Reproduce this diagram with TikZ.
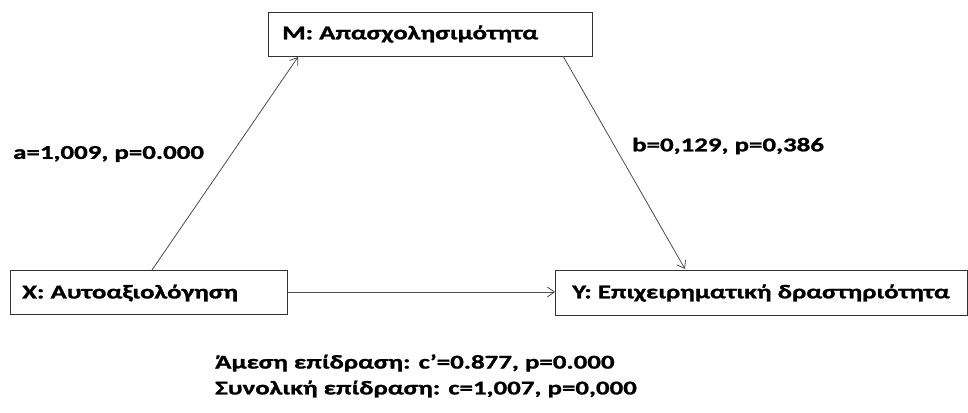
\documentclass[tikz,border=0pt]{standalone}
\usepackage{fontspec}
\setmainfont[FakeStretch=1.38,BoldFeatures={FakeBold=1.2}]{Carlito}
\usetikzlibrary{arrows.meta}
\begin{document}
\begin{tikzpicture}[x=1pt,y=-1pt,
  box/.style={draw=black!80,line width=1pt,inner sep=0pt,anchor=north west},
  lbl/.style={font=\bfseries\fontsize{19.5}{23}\selectfont,anchor=west,inner sep=0pt},
  conn/.style={draw=black!70,line width=0.8pt,-{Straight Barb[length=7pt,width=10pt]}}]
\useasboundingbox (0,0) rectangle (968,412);
\node[box,minimum width=324pt,minimum height=44pt] (M) at (268,12) {};
\node[lbl] (mt) at (282,34) {M: Απασχολησιμότητα};
\node[box,minimum width=277pt,minimum height=44pt] (X) at (10,270) {};
\node[lbl] (xt) at (22,293) {X: Αυτοαξιολόγηση};
\node[box,minimum width=412pt,minimum height=45pt] (Y) at (555,270) {};
\node[lbl] (yt) at (572,293) {Y: Επιχειρηματική δραστηριότητα};
\coordinate (xm) at (152,270);
\coordinate (mx) at (298,57);
\coordinate (my) at (563,56);
\coordinate (ym) at (685,269);
\draw[conn] (xm) -- (mx);
\draw[conn] (my) -- (ym);
\draw[conn] (X.east |- 0,292) -- (Y.west |- 0,292);
\node[lbl] (a) at (13,154) {a=1,009, p=0.000};
\node[lbl] (b) at (632,146) {b=0,129, p=0,386};
\node[lbl] (d) at (215,363) {Άμεση επίδραση: c’=0.877, p=0.000};
\node[lbl] (t) at (215,389) {Συνολική επίδραση: c=1,007, p=0,000};
\end{tikzpicture}
\end{document}
